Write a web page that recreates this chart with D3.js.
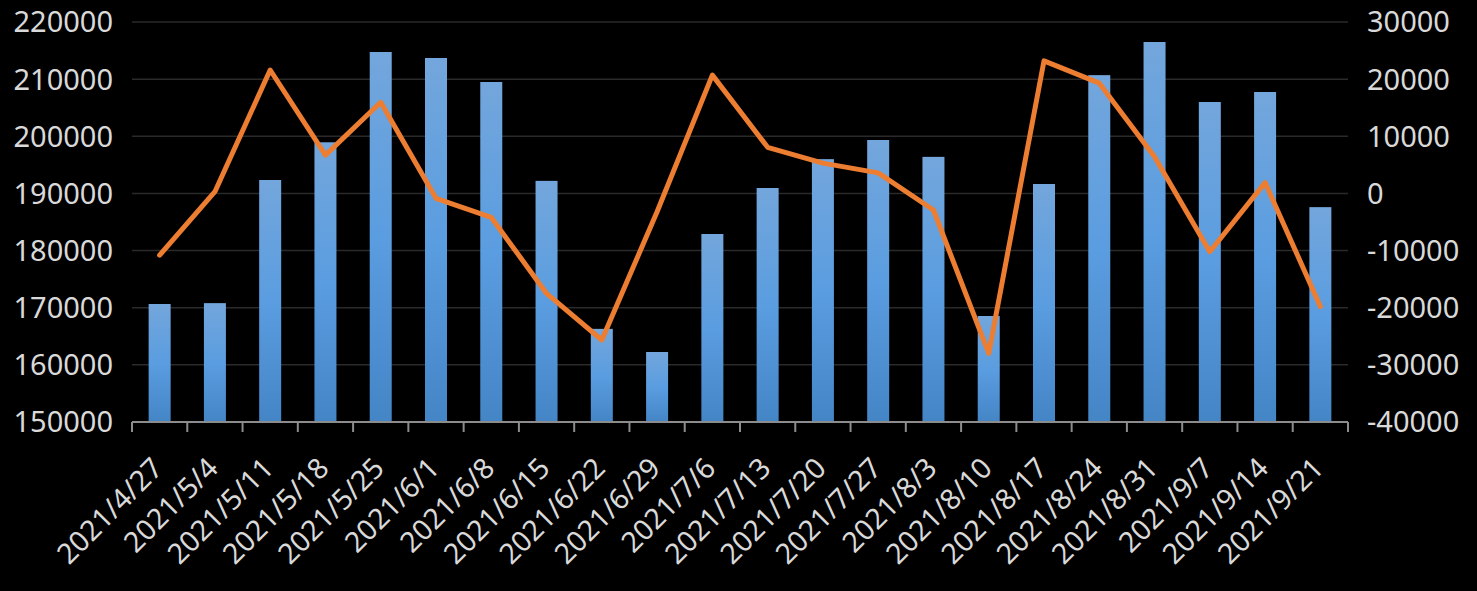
<!DOCTYPE html>
<html>
<head>
<meta charset="utf-8">
<script src="https://cdn.jsdelivr.net/npm/d3@7"></script>
<style>
  html, body { margin: 0; padding: 0; background: #000; }
  svg { display: block; }
</style>
</head>
<body>
<svg id="chart" width="1477" height="591"></svg>
<script>
const categories = ["2021/4/27","2021/5/4","2021/5/11","2021/5/18","2021/5/25","2021/6/1","2021/6/8","2021/6/15","2021/6/22","2021/6/29","2021/7/6","2021/7/13","2021/7/20","2021/7/27","2021/8/3","2021/8/10","2021/8/17","2021/8/24","2021/8/31","2021/9/7","2021/9/14","2021/9/21"];
const barValues = [170650, 170800, 192350, 198950, 214750, 213700, 209500, 192200, 166300, 162250, 182900, 190950, 196000, 199350, 196400, 168550, 191650, 210700, 216500, 206000, 207750, 187600];
const lineValues = [-10800, 300, 21600, 6700, 15950, -850, -4200, -17500, -25650, -3200, 20700, 8070, 5300, 3600, -2900, -28000, 23200, 19300, 6400, -10200, 1900, -19800];
const leftTicks = [150000, 160000, 170000, 180000, 190000, 200000, 210000, 220000];
const rightTicks = [-40000, -30000, -20000, -10000, 0, 10000, 20000, 30000];

const svg = d3.select("#chart");
const plotLeft = 132, plotRight = 1348, plotTop = 22, plotBottom = 422;
const textColor = "#d9d9d9";
const fontFamily = "'Noto Sans', 'Open Sans', sans-serif";

const xb = d3.scaleBand().domain(categories).range([plotLeft, plotRight]);
const yL = d3.scaleLinear().domain([150000, 220000]).range([plotBottom, plotTop]);
const yR = d3.scaleLinear().domain([-40000, 30000]).range([plotBottom, plotTop]);
const barW = 22;

// gradient
const defs = svg.append("defs");
const grad = defs.append("linearGradient").attr("id", "barGrad")
  .attr("x1", 0).attr("y1", 0).attr("x2", 0).attr("y2", 1);
grad.append("stop").attr("offset", "0%").attr("stop-color", "#73a6dc");
grad.append("stop").attr("offset", "50%").attr("stop-color", "#5a9de0");
grad.append("stop").attr("offset", "100%").attr("stop-color", "#4485c6");

// gridlines
svg.append("g").selectAll("line").data(leftTicks.slice(1)).join("line")
  .attr("x1", plotLeft).attr("x2", plotRight)
  .attr("y1", d => yL(d)).attr("y2", d => yL(d))
  .attr("stroke", "#2a2a2a").attr("stroke-width", 1.5);

// bars
svg.append("g").selectAll("rect").data(barValues).join("rect")
  .attr("x", (d, i) => xb(categories[i]) + (xb.bandwidth() - barW) / 2)
  .attr("width", barW)
  .attr("y", d => yL(d))
  .attr("height", d => plotBottom - yL(d))
  .attr("fill", "url(#barGrad)");

// bottom axis
const axisG = svg.append("g");
axisG.append("line").attr("x1", plotLeft).attr("x2", plotRight).attr("y1", plotBottom).attr("y2", plotBottom)
  .attr("stroke", "#8c8c8c").attr("stroke-width", 2);
const tickPos = categories.map(c => xb(c)).concat([plotRight]);
axisG.selectAll("line.tick").data(tickPos).join("line").attr("class", "tick")
  .attr("x1", d => d).attr("x2", d => d).attr("y1", plotBottom).attr("y2", plotBottom + 10)
  .attr("stroke", "#8c8c8c").attr("stroke-width", 2);

// x labels
svg.append("g").selectAll("text").data(categories).join("text")
  .attr("transform", d => `translate(${xb(d) + xb.bandwidth() / 2 + 5},470) rotate(-45)`)
  .attr("text-anchor", "end")
  .attr("fill", textColor)
  .attr("font-family", fontFamily)
  .attr("font-size", 28.5)
  .text(d => d);

// left axis labels
svg.append("g").selectAll("text").data(leftTicks).join("text")
  .attr("x", 113).attr("y", d => yL(d)).attr("dy", "0.36em")
  .attr("text-anchor", "end")
  .attr("fill", textColor).attr("font-family", fontFamily).attr("font-size", 29)
  .text(d => d);

// right axis labels
svg.append("g").selectAll("text").data(rightTicks).join("text")
  .attr("x", 1367).attr("y", d => yR(d)).attr("dy", "0.36em")
  .attr("text-anchor", "start")
  .attr("fill", textColor).attr("font-family", fontFamily).attr("font-size", 29)
  .text(d => String(d));

// line
const line = d3.line()
  .x((d, i) => xb(categories[i]) + xb.bandwidth() / 2)
  .y(d => yR(d));
svg.append("path").datum(lineValues)
  .attr("d", line)
  .attr("fill", "none")
  .attr("stroke", "#ed7d31")
  .attr("stroke-width", 5)
  .attr("stroke-linejoin", "round")
  .attr("stroke-linecap", "round");
</script>
</body>
</html>
